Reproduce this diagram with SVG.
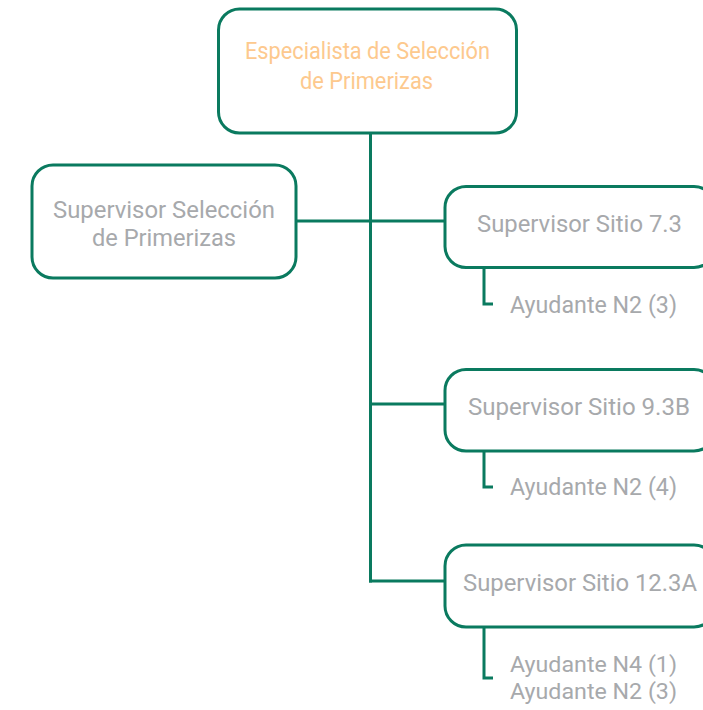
<svg xmlns="http://www.w3.org/2000/svg" width="703" height="710" viewBox="0 0 703 710">
<style>
.box{fill:#ffffff;stroke:#0a7a5f;stroke-width:3}
.ln{fill:none;stroke:#0a7a5f;stroke-width:3}
.t{font-family:Roboto,"Liberation Sans",Arial,sans-serif;font-size:24.5px;fill:#a7a9ac}
.s{font-size:22.5px}
.o{fill:#fdc98e}
</style>
<rect width="703" height="710" fill="#ffffff"/>
<g id="connectors">
<line class="ln" x1="370.5" y1="133" x2="370.5" y2="582.5"/>
<line class="ln" x1="296" y1="221" x2="445" y2="221"/>
<line class="ln" x1="370" y1="404" x2="445" y2="404"/>
<line class="ln" x1="369" y1="581" x2="445" y2="581"/>
<path class="ln" d="M484 268 V304 H493"/>
<path class="ln" d="M484 451 V487 H493"/>
<path class="ln" d="M484 627 V678 H493"/>
</g>
<g id="especialista">
<rect class="box" x="218.5" y="9" width="298" height="124" rx="21"/>
<text class="t o" x="245" y="59" textLength="245" lengthAdjust="spacingAndGlyphs">Especialista de Selección</text>
<text class="t o" x="300" y="89" textLength="133" lengthAdjust="spacingAndGlyphs">de Primerizas</text>
</g>
<g id="supervisor-seleccion">
<rect class="box" x="32" y="165" width="264" height="113" rx="21"/>
<text class="t" x="53" y="218" textLength="222" lengthAdjust="spacingAndGlyphs">Supervisor Selección</text>
<text class="t" x="92" y="246" textLength="144" lengthAdjust="spacingAndGlyphs">de Primerizas</text>
</g>
<g id="sitio-7-3">
<rect class="box" x="445" y="186.5" width="270" height="81" rx="21"/>
<text class="t" x="477" y="232" textLength="205" lengthAdjust="spacingAndGlyphs">Supervisor Sitio 7.3</text>
</g>
<g id="ayudante-7-3">
<text class="t" x="510" y="313" textLength="167" lengthAdjust="spacingAndGlyphs">Ayudante N2 (3)</text>
</g>
<g id="sitio-9-3b">
<rect class="box" x="445" y="369.5" width="270" height="81.5" rx="21"/>
<text class="t" x="468" y="415" textLength="222" lengthAdjust="spacingAndGlyphs">Supervisor Sitio 9.3B</text>
</g>
<g id="ayudante-9-3b">
<text class="t" x="510" y="495" textLength="167" lengthAdjust="spacingAndGlyphs">Ayudante N2 (4)</text>
</g>
<g id="sitio-12-3a">
<rect class="box" x="445" y="545" width="270" height="82" rx="21"/>
<text class="t" x="463" y="591" textLength="234" lengthAdjust="spacingAndGlyphs">Supervisor Sitio 12.3A</text>
</g>
<g id="ayudante-12-3a">
<text class="t s" x="510" y="671.5" textLength="167" lengthAdjust="spacingAndGlyphs">Ayudante N4 (1)</text>
<text class="t s" x="510" y="698.5" textLength="167" lengthAdjust="spacingAndGlyphs">Ayudante N2 (3)</text>
</g>
</svg>
